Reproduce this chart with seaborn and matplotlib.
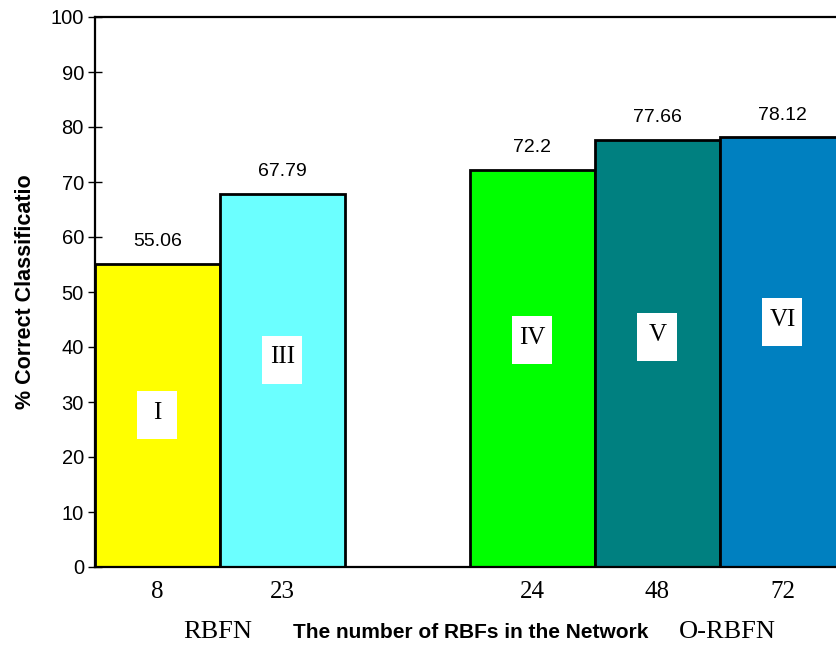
import matplotlib
matplotlib.use("Agg")
import matplotlib.pyplot as plt
from matplotlib.patches import Rectangle
import seaborn as sns
import pandas as pd

# Network sizes (number of RBFs), accuracies and case labels
rbf_counts = ["8", "23", "24", "48", "72"]
accuracy = [55.06, 67.79, 72.2, 77.66, 78.12]
case_labels = ["I", "III", "IV", "V", "VI"]
case_label_heights = [27.6, 37.7, 41.2, 41.8, 44.5]
bar_colors = ["#FFFF00", "#6BFFFF", "#00FF00", "#008080", "#0080C0"]
slot_order = ["8", "23", " ", "24", "48", "72"]

sns.set_style("white")
plt.rcParams["font.family"] = ["Liberation Sans", "DejaVu Sans"]
for key in ["text.color", "axes.labelcolor", "xtick.color", "ytick.color"]:
    plt.rcParams[key] = "black"

df = pd.DataFrame({"rbfs": rbf_counts, "acc": accuracy})

fig = plt.figure(figsize=(8.37, 6.45), dpi=100)
ax = fig.add_axes([95 / 837, 78 / 645, 750 / 837, 550 / 645])

sns.barplot(data=df, x="rbfs", y="acc", order=slot_order, hue="rbfs",
            hue_order=rbf_counts, palette=bar_colors, width=1.0,
            edgecolor="black", linewidth=2, legend=False, ax=ax,
            saturation=1)

ax.set_xlim(-0.5, 5.5)
ax.set_ylim(0, 100)
ax.set_yticks(range(0, 101, 10))
ax.tick_params(axis="y", direction="inout", length=10, width=1,
               labelsize=14.5, pad=3, left=True)
ax.tick_params(axis="x", length=0, pad=10)
ax.set_xticks([0, 1, 3, 4, 5])
ax.set_xticklabels(rbf_counts, fontfamily="Liberation Serif", fontsize=18)

for side in ["top", "left", "bottom"]:
    ax.spines[side].set_visible(True)
    ax.spines[side].set_linewidth(1.6)
    ax.spines[side].set_color("black")
ax.spines["right"].set_visible(False)

ax.set_xlabel("")
ax.set_ylabel("% Correct Classificatio", fontsize=15.5, fontweight="bold")
ax.yaxis.set_label_coords(-0.078, 0.5)

# Case labels sit in fixed-size white boxes inside the bars
box_w, box_h = 0.32, 8.7
positions = [0, 1, 3, 4, 5]
for pos, val, lab, h in zip(positions, accuracy, case_labels, case_label_heights):
    ax.text(pos, val + 2.5, f"{val:g}", ha="center", va="bottom", fontsize=14)
    ax.add_patch(Rectangle((pos - box_w / 2, h - box_h / 2), box_w, box_h,
                           facecolor="white", edgecolor="none", zorder=3))
    ax.text(pos, h + 0.4, lab, ha="center", va="center",
            fontfamily="Liberation Serif", fontsize=18, zorder=4)

fig.text(218 / 837, 0.02, "RBFN", ha="center", va="center",
         fontfamily="Liberation Serif", fontsize=19)
fig.text(471 / 837, 0.02, "The number of RBFs in the Network", ha="center",
         va="center", fontsize=15, fontweight="bold")
fig.text(727 / 837, 0.02, "O-RBFN", ha="center", va="center",
         fontfamily="Liberation Serif", fontsize=19)

fig.savefig("out.png", dpi=100)
